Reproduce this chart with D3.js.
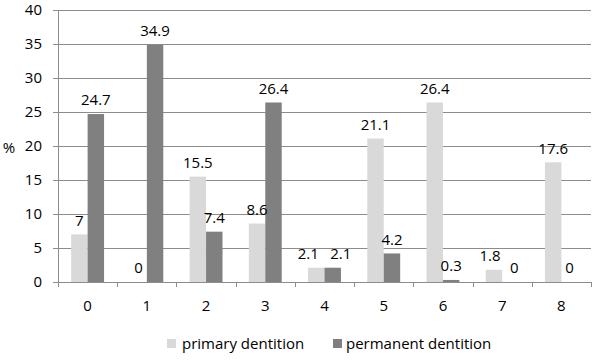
<!DOCTYPE html>
<html><head><meta charset="utf-8">
<script src="https://cdn.jsdelivr.net/npm/d3@7"></script>
<style>body{margin:0;background:#fff}svg text{font-family:"Open Sans",sans-serif;fill:#000}</style>
</head><body>
<svg id="c" width="600" height="362"></svg>
<script>
const categories = ["0","1","2","3","4","5","6","7","8"];
const primary = [7, 0, 15.5, 8.6, 2.1, 21.1, 26.4, 1.8, 17.6];
const permanent = [24.7, 34.9, 7.4, 26.4, 2.1, 4.2, 0.3, 0, 0];
const seriesNames = ["primary dentition", "permanent dentition"];
const yTicks = [0,5,10,15,20,25,30,35,40];

const svg = d3.select("#c");
const m = {l:58, r:9, t:10, b:80};
const W = 600, H = 362;
const x = d3.scaleBand().domain(categories).range([m.l, W-m.r]);
const y = d3.scaleLinear().domain([0,40]).range([H-m.b, m.t]);
const colors = ["#d9d9d9", "#808080"];
const grid = "#8c8c8c";
const fs = 15;

// gridlines
svg.append("g").selectAll("line").data(yTicks).join("line")
  .attr("x1", m.l-5).attr("x2", W-m.r)
  .attr("y1", d=>y(d)+0.5).attr("y2", d=>y(d)+0.5)
  .attr("stroke", grid).attr("stroke-width",1);
svg.append("line").attr("x1", m.l+0.5).attr("x2", m.l+0.5).attr("y1", y(40)).attr("y2", y(0))
  .attr("stroke", grid);
svg.append("g").selectAll("text").data(yTicks).join("text")
  .attr("x", 42).attr("y", d=>y(d)).attr("dy","0.35em").attr("text-anchor","end")
  .attr("font-size", fs).text(d=>d);
svg.append("text").attr("x", 9).attr("y", y(20)+2).attr("dy","0.35em").attr("text-anchor","middle")
  .attr("font-size", fs).text("%");

const bounds = categories.map(c=>x(c)).concat([x(categories[categories.length-1])+x.bandwidth()]);
svg.append("g").selectAll("line").data(bounds).join("line")
  .attr("x1", d=>Math.round(d)+0.5).attr("x2", d=>Math.round(d)+0.5)
  .attr("y1", y(0)).attr("y2", y(0)+5).attr("stroke", grid);
svg.append("g").selectAll("text").data(categories).join("text")
  .attr("x", d=>x(d)+x.bandwidth()/2).attr("y", y(0)+24).attr("dy","0.35em")
  .attr("text-anchor","middle").attr("font-size", fs).text(d=>d);

const inner = d3.scaleBand().domain([0,1]).range([0, x.bandwidth()]).paddingOuter(0.8).paddingInner(0);
const data = [primary, permanent];
// label layout with simple collision avoidance within a category
const labels = [];
data.forEach((vals, si) => vals.forEach((v,i)=>{
  labels.push({v, si, i, cx: x(categories[i])+inner(si)+inner.bandwidth()/2, cy: y(v)-14});
}));
categories.forEach((c,i)=>{
  const a = labels.find(l=>l.i===i && l.si===0), b = labels.find(l=>l.i===i && l.si===1);
  const wa = String(a.v).length*8.2, wb = String(b.v).length*8.2;
  const need = (wa+wb)/2 + 8 - (b.cx - a.cx);
  if (Math.abs(a.cy-b.cy) < 16 && need > 0) { a.cx -= need/2; b.cx += need/2; }
});
data.forEach((vals, si) => {
  svg.append("g").selectAll("rect").data(vals).join("rect")
    .attr("x", (d,i)=>x(categories[i])+inner(si))
    .attr("width", inner.bandwidth())
    .attr("y", d=>y(d)).attr("height", d=>y(0)-y(d))
    .attr("fill", colors[si]);
});
svg.append("g").selectAll("text").data(labels).join("text")
  .attr("x", d=>d.cx).attr("y", d=>d.cy).attr("dy","0.35em")
  .attr("text-anchor","middle").attr("font-size", fs).text(d=>d.v);

svg.append("line").attr("x1", m.l-5).attr("x2", W-m.r).attr("y1", y(0)+0.5).attr("y2", y(0)+0.5)
  .attr("stroke", grid);

const leg = [{x:167, tx:182},{x:333, tx:346}];
seriesNames.forEach((n,i)=>{
  svg.append("rect").attr("x", leg[i].x).attr("y", 339).attr("width", 9).attr("height", 9).attr("fill", colors[i]);
  svg.append("text").attr("x", leg[i].tx).attr("y", 343.5).attr("dy","0.35em").attr("font-size", fs).text(n);
});
</script>
</body></html>
